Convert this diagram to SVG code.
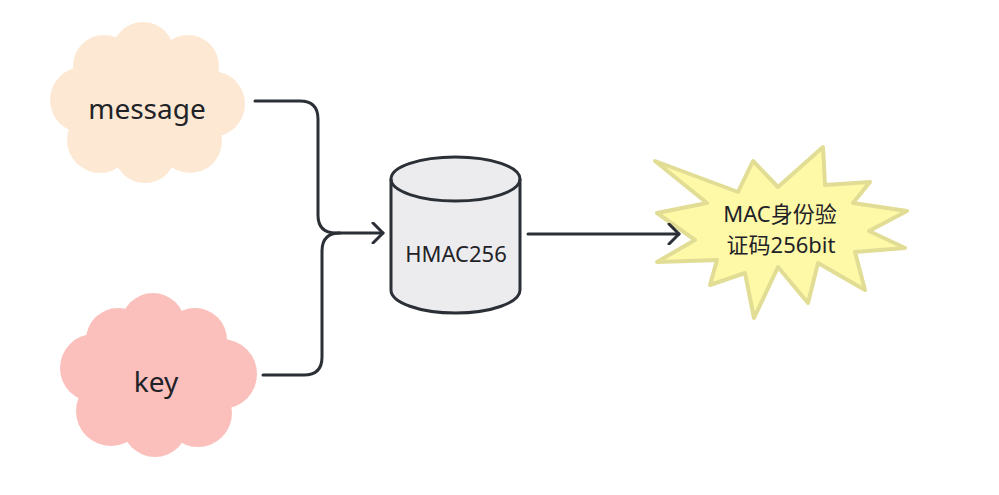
<svg xmlns="http://www.w3.org/2000/svg" width="999" height="495" viewBox="0 0 999 495">
<style>
  .lbl { font-family: "Noto Sans", "Noto Sans CJK SC", sans-serif; fill: #1f2328; text-anchor: middle; }
  .conn { fill: none; stroke: #2b2f36; stroke-width: 3; stroke-linecap: round; stroke-linejoin: round; }
  .msg circle, .msg ellipse { fill: #fde9d3; }
  .key circle, .key ellipse { fill: #fbc0bc; }
</style>
<defs>
  <marker id="arr" viewBox="0 0 14 22" refX="12" refY="11" markerWidth="14" markerHeight="22" markerUnits="userSpaceOnUse" orient="auto">
    <path d="M2 1 L12 11 L2 21" fill="none" stroke="#2b2f36" stroke-width="3" stroke-linecap="round" stroke-linejoin="round"/>
  </marker>
</defs>
<rect width="999" height="495" fill="#ffffff"/>

<g id="message" class="msg">
  <ellipse cx="147" cy="103" rx="70" ry="55"/>
  <circle cx="143" cy="53" r="31"/>
  <circle cx="104" cy="66" r="31"/>
  <circle cx="188" cy="66" r="31"/>
  <circle cx="83" cy="100" r="33"/>
  <circle cx="212" cy="104" r="33"/>
  <circle cx="100" cy="140" r="33"/>
  <circle cx="145" cy="152" r="31"/>
  <circle cx="190" cy="141" r="32"/>
  <text class="lbl" x="147" y="119" font-size="28">message</text>
</g>

<g id="key" class="key">
  <ellipse cx="157" cy="375" rx="70" ry="58"/>
  <circle cx="153" cy="325" r="32"/>
  <circle cx="118" cy="340" r="32"/>
  <circle cx="195" cy="340" r="32"/>
  <circle cx="94" cy="368" r="34"/>
  <circle cx="222" cy="374" r="35"/>
  <circle cx="111" cy="411" r="35"/>
  <circle cx="155" cy="424" r="33"/>
  <circle cx="198" cy="413" r="34"/>
  <text class="lbl" x="156" y="392" font-size="28">key</text>
</g>

<g id="hmac">
  <path d="M391 179 A64.5 22 0 0 1 520 179 V290 A64.5 23 0 0 1 391 290 Z" fill="#ececef" stroke="#2b2f36" stroke-width="3"/>
  <path d="M391 179 A64.5 22 0 0 0 520 179" fill="none" stroke="#2b2f36" stroke-width="3"/>
  <text class="lbl" x="456" y="262" font-size="22">HMAC256</text>
</g>

<g id="mac">
  <polygon points="655,161 738,192 753,161 778,187 823,147 825,185 870,182 853,203 907,211 869,231 905,248 855,252 865,290 818,263 808,303 778,267 754,318 745,273 710,285 717,260 657,262 695,240 657,213 707,203" fill="#fef9a7" stroke="#e2dd94" stroke-width="4" stroke-linejoin="round"/>
  <text class="lbl" x="780" y="222" font-size="22">MAC身份验</text>
  <text class="lbl" x="781" y="253" font-size="22">证码256bit</text>
</g>

<g id="connectors">
  <path class="conn" d="M255 101 H300 Q318 101 318 119 V215 Q318 233 336 233 H383" marker-end="url(#arr)"/>
  <path class="conn" d="M263 375 H304 Q322 375 322 357 V251 Q322 233 340 233"/>
  <path class="conn" d="M528 234 H679" marker-end="url(#arr)"/>
</g>
</svg>
